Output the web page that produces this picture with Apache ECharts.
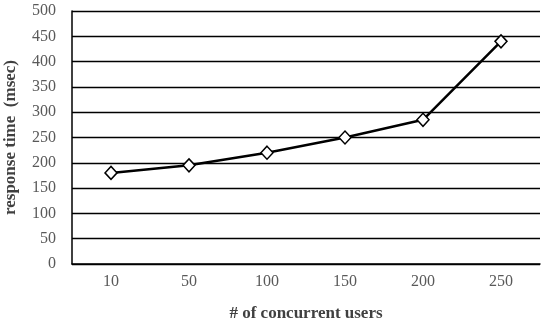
<!DOCTYPE html>
<html><head><meta charset="utf-8">
<script src="https://cdn.jsdelivr.net/npm/echarts@6/dist/echarts.min.js"></script>
<style>html,body{margin:0;padding:0;background:#fff}#c{width:550px;height:322px}</style>
</head><body><div id="c"></div>
<script>
const categories = ['10','50','100','150','200','250'];
const responseTime = [180, 195, 220, 250, 285, 440];
const yMin = 0, yMax = 500, yInterval = 50;

const font = 'Liberation Serif';
const chart = echarts.init(document.getElementById('c'), null, {renderer:'canvas'});
chart.setOption({
  animation: false,
  backgroundColor: '#fff',
  grid: {left: 72, right: 10, top: 11, bottom: 58, containLabel: false, outerBoundsMode: 'none'},
  xAxis: {
    type: 'category', data: categories, boundaryGap: true,
    name: '# of concurrent users', nameLocation: 'middle', nameGap: 41,
    nameTextStyle: {fontFamily: font, fontWeight: 'bold', fontSize: 17, color: '#404040'},
    axisLine: {show: true, lineStyle: {color: '#000', width: 1.5}},
    axisTick: {show: false},
    axisLabel: {fontFamily: font, fontSize: 16, color: '#595959', margin: 10}
  },
  yAxis: {
    type: 'value', min: yMin, max: yMax, interval: yInterval,
    name: 'response time  (msec)', nameLocation: 'middle', nameGap: 53, nameRotate: 90,
    nameTextStyle: {fontFamily: font, fontWeight: 'bold', fontSize: 17, color: '#404040'},
    axisLine: {show: true, lineStyle: {color: '#000', width: 1.5}},
    axisTick: {show: false},
    axisLabel: {fontFamily: font, fontSize: 16, color: '#595959', margin: 16},
    splitLine: {show: true, lineStyle: {color: '#000', width: 1.3}}
  },
  series: [{
    type: 'line', data: responseTime,
    symbol: 'diamond', symbolSize: [12, 13],
    lineStyle: {color: '#000', width: 2.5},
    itemStyle: {color: '#fff', borderColor: '#000', borderWidth: 1.5}
  }]
});
</script></body></html>
